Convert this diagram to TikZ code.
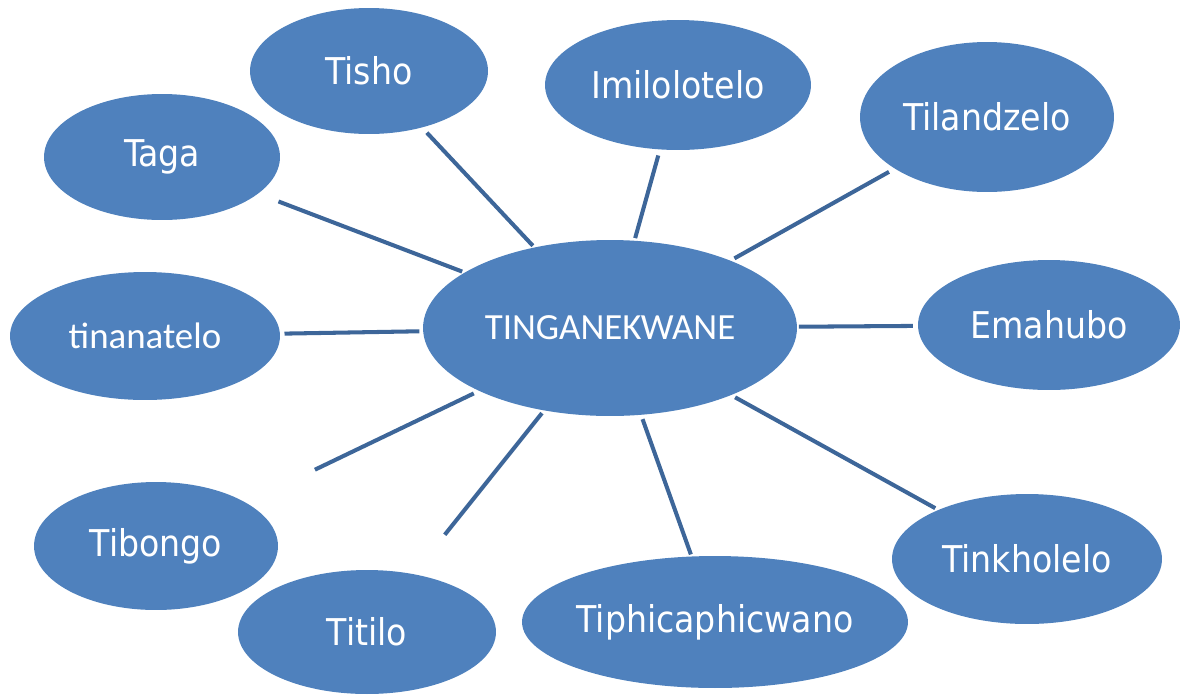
\documentclass[tikz,border=0pt]{standalone}
\usepackage{fontspec}
\setmainfont{DejaVu Sans Condensed}
\newfontfamily\calibrifont{Carlito}
\usetikzlibrary{shapes.geometric,calc}
\definecolor{bubblefill}{HTML}{4F81BD}
\definecolor{linkline}{HTML}{3D6699}
\begin{document}
\begin{tikzpicture}[x=0.02cm, y=-0.02cm,
	bubble/.style={ellipse, fill=bubblefill, inner sep=0pt, text=white, font=\fontsize{21}{25}\selectfont},
	link/.style={draw=linkline, line width=2.3pt}]
	\useasboundingbox (0,0) rectangle (1180,694);
	\node[bubble, minimum width=7.48cm, minimum height=3.52cm, font=\calibrifont\fontsize{21}{25}\selectfont] (hub) at (610.00,328.00) {TINGANEKWANE};
	\node[bubble, minimum width=4.76cm, minimum height=2.52cm] (tisho) at (369.00,71.00) {Tisho};
	\node[bubble, minimum width=5.32cm, minimum height=2.60cm] (imilo) at (678.00,85.00) {Imilolotelo};
	\node[bubble, minimum width=5.08cm, minimum height=3.00cm] (tiland) at (987.00,117.00) {Tilandzelo};
	\node[bubble, minimum width=4.72cm, minimum height=2.52cm] (taga) at (162.00,157.00) {Taga};
	\node[bubble, minimum width=5.40cm, minimum height=2.56cm, font=\calibrifont\fontsize{21}{25}\selectfont] (tinana) at (145.00,336.00) {tinanatelo};
	\node[bubble, minimum width=5.24cm, minimum height=2.60cm] (emahubo) at (1049.00,325.00) {Emahubo};
	\node[bubble, minimum width=4.88cm, minimum height=2.56cm] (tibongo) at (156.00,546.00) {Tibongo};
	\node[bubble, minimum width=5.16cm, minimum height=2.48cm] (titilo) at (367.00,632.00) {Titilo};
	\node[bubble, minimum width=7.72cm, minimum height=2.64cm, inner xsep=-1cm] (tiphica) at (715.00,622.00) {Tiphicaphicwano};
	\node[bubble, minimum width=5.40cm, minimum height=2.60cm] (tinkho) at (1027.00,559.00) {Tinkholelo};
	\draw[link] ($(hub)!0.33!(taga)$) -- ($(hub)!0.74!(taga)$);
	\draw[link] ($(hub)!0.32!(tisho)$) -- ($(hub)!0.76!(tisho)$);
	\draw[link] ($(hub)!0.37!(imilo)$) -- ($(hub)!0.71!(imilo)$);
	\draw[link] ($(hub)!0.33!(tiland)$) -- ($(hub)!0.74!(tiland)$);
	\draw[link] ($(hub)!0.41!(tinana)$) -- ($(hub)!0.70!(tinana)$);
	\draw[link] ($(hub)!0.43!(emahubo)$) -- ($(hub)!0.69!(emahubo)$);
	\draw[link] ($(hub)!0.30!(tibongo)$) -- ($(hub)!0.65!(tibongo)$);
	\draw[link] ($(hub)!0.28!(titilo)$) -- ($(hub)!0.68!(titilo)$);
	\draw[link] ($(hub)!0.31!(tiphica)$) -- ($(hub)!0.77!(tiphica)$);
	\draw[link] ($(hub)!0.30!(tinkho)$) -- ($(hub)!0.78!(tinkho)$);
\end{tikzpicture}
\end{document}
